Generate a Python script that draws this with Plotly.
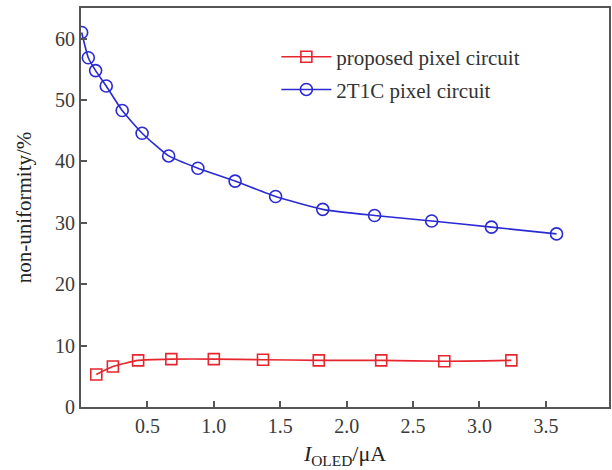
import plotly.graph_objects as go

# Data
x_proposed = [0.115, 0.24, 0.43, 0.68, 1.00, 1.37, 1.79, 2.26, 2.735, 3.24]
y_proposed = [5.3, 6.6, 7.6, 7.8, 7.8, 7.7, 7.6, 7.6, 7.45, 7.6]

x_2t1c = [0.005, 0.055, 0.11, 0.19, 0.31, 0.46, 0.66, 0.88, 1.16, 1.465, 1.82, 2.21, 2.64, 3.09, 3.58]
y_2t1c = [61.0, 56.9, 54.8, 52.3, 48.3, 44.6, 40.9, 38.9, 36.8, 34.3, 32.2, 31.2, 30.3, 29.3, 28.2]

x_ticks = [0.5, 1.0, 1.5, 2.0, 2.5, 3.0, 3.5]
x_ticklabels = ["0.5", "1.0", "1.5", "2.0", "2.5", "3.0", "3.5"]
y_ticks = [0, 10, 20, 30, 40, 50, 60]

RED = "#e6262e"
BLUE = "#2a2ad2"
FONT = "Liberation Serif"

fig = go.Figure()
fig.add_trace(go.Scatter(
    x=x_proposed, y=y_proposed, name="proposed pixel circuit",
    mode="lines+markers", line=dict(color=RED, width=1.6, shape="spline", smoothing=0.5),
    marker=dict(symbol="square-open", size=11, color=RED, line=dict(width=1.6)),
    legend="legend", showlegend=True,
))
fig.add_trace(go.Scatter(
    x=x_2t1c, y=y_2t1c, name="2T1C pixel circuit",
    mode="lines+markers", line=dict(color=BLUE, width=1.6, shape="spline", smoothing=0.5),
    marker=dict(symbol="circle-open", size=12, color=BLUE, line=dict(width=1.6)),
    legend="legend2", showlegend=True,
))

axis_common = dict(
    showgrid=False, zeroline=False, showline=True, linecolor="#555555", linewidth=1.8,
    ticks="inside", ticklen=6, tickwidth=1.5, tickcolor="#555555",
    tickfont=dict(family=FONT, size=20, color="#3a3a3a"),
)

legend_common = dict(xanchor="left", yanchor="middle", bgcolor="rgba(0,0,0,0)",
                     itemwidth=50,
                     font=dict(family=FONT, size=21, color="#333333"))

fig.update_layout(
    width=612, height=470,
    margin=dict(l=81, r=1, t=8, b=63),
    paper_bgcolor="white", plot_bgcolor="white",
    showlegend=True,
    font=dict(family=FONT, color="#222222"),
    xaxis=dict(range=[0, 3.975], tickvals=x_ticks, ticktext=x_ticklabels,
               mirror=True,
               title=dict(text="<i>I</i><sub>OLED</sub>/μA", font=dict(family=FONT, size=22),
                          standoff=10),
               **axis_common),
    yaxis=dict(range=[0, 65], tickvals=y_ticks, mirror=True,
               title=dict(text="non-uniformity/%", font=dict(family=FONT, size=21),
                          standoff=18),
               **axis_common),
    legend=dict(x=0.37, y=0.877, **legend_common),
    legend2=dict(x=0.37, y=0.795, **legend_common),
)

fig.write_html("out.html")
